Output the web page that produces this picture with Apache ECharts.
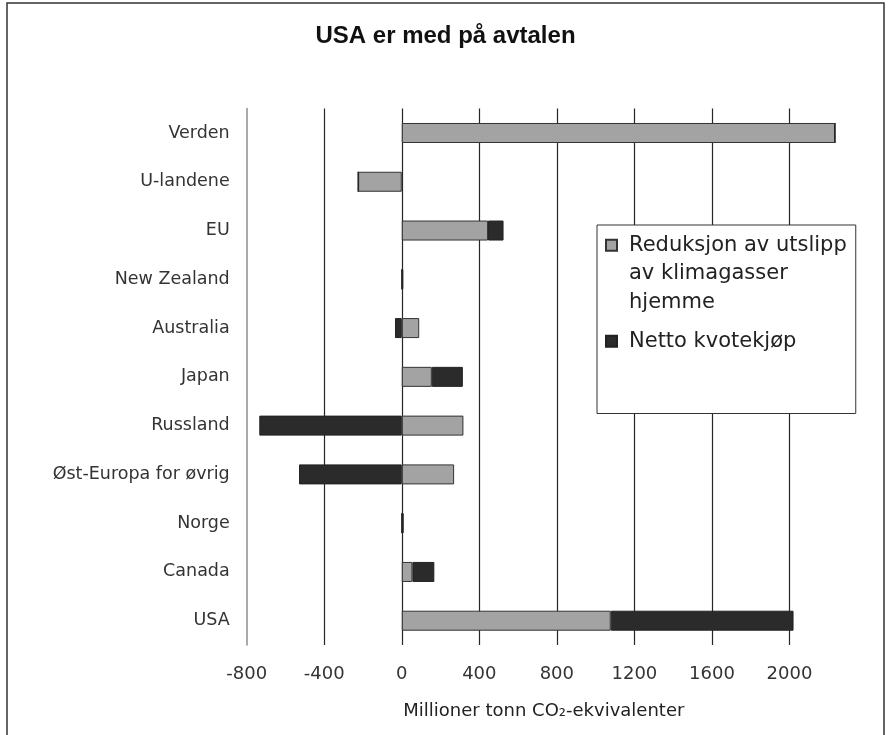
<!DOCTYPE html>
<html>
<head>
<meta charset="utf-8">
<script src="https://cdn.jsdelivr.net/npm/echarts@6/dist/echarts.min.js"></script>
<style>
  html, body { margin: 0; padding: 0; background: #fff; }
  #chart { width: 891px; height: 735px; }
</style>
</head>
<body>
<div id="chart"></div>
<script>
// Data (top to bottom)
const categories = ['Verden', 'U-landene', 'EU', 'New Zealand', 'Australia', 'Japan', 'Russland', 'Øst-Europa for øvrig', 'Norge', 'Canada', 'USA'];
const reduksjon = [2235, -225, 445, 0, 90, 155, 318, 270, 0, 55, 1078];
const kvotekjop = [0, 0, 80, 8, -35, 160, -735, -530, 10, 113, 943];
const xTicks = [-800, -400, 0, 400, 800, 1200, 1600, 2000];
const seriesNames = ['Reduksjon av utslipp av klimagasser hjemme', 'Netto kvotekjøp'];
const legendLabels = ['Reduksjon av utslipp\nav klimagasser\nhjemme', 'Netto kvotekjøp'];

const chart = echarts.init(document.getElementById('chart'), null, { renderer: 'canvas' });

const option = {
  animation: false,
  backgroundColor: '#ffffff',
  title: {
    text: 'USA er med på avtalen',
    left: 'center',
    top: 19,
    textStyle: { fontFamily: 'Liberation Sans', fontWeight: 'bold', fontSize: 24, color: '#111' }
  },
  graphic: [{
    type: 'rect', silent: true, z: -10,
    shape: { x: 7, y: 3, width: 877, height: 760 },
    style: { fill: 'none', stroke: '#333', lineWidth: 1.5 }
  }],
  legend: {
    orient: 'vertical',
    left: 597,
    top: 225,
    padding: [6, 9, 58, 8],
    backgroundColor: '#fff',
    borderColor: '#333',
    borderWidth: 1,
    itemWidth: 11,
    itemHeight: 68,
    itemGap: 10.5,
    symbolKeepAspect: true,
    formatter: function (name) { return legendLabels[seriesNames.indexOf(name)]; },
    textStyle: { fontFamily: 'DejaVu Sans', fontSize: 21, lineHeight: 28.5, color: '#222', padding: [0, 0, 0, 7] },
    data: [
      { name: seriesNames[0], icon: 'path://M0,0h11v11h-11zM0,68' },
      { name: seriesNames[1], icon: 'path://M0,0h11v11h-11z' }
    ]
  },
  grid: { left: 246.7, right: 24, top: 108.6, bottom: 89.9, containLabel: false },
  xAxis: {
    type: 'value',
    min: xTicks[0],
    max: 2400,
    interval: 400,
    name: 'Millioner tonn CO₂-ekvivalenter',
    nameLocation: 'middle',
    nameGap: 57,
    nameTextStyle: { fontFamily: 'DejaVu Sans', fontSize: 18, color: '#222', padding: [0, 26, 0, 0] },
    axisLine: { show: false },
    axisTick: { show: false },
    axisLabel: {
      showMaxLabel: false,
      margin: 20,
      fontFamily: 'DejaVu Sans', fontSize: 18, color: '#333',
      formatter: function (v) { return xTicks.indexOf(v) >= 0 ? String(v) : ''; }
    },
    splitLine: { show: true, showMinLine: false, showMaxLine: false, lineStyle: { color: '#262626', width: 1.2 } }
  },
  yAxis: {
    type: 'category',
    data: categories,
    inverse: true,
    axisLine: { show: true, onZero: false, lineStyle: { color: '#8e8e8e', width: 1.5 } },
    axisTick: { show: false },
    axisLabel: {
      margin: 17,
      fontFamily: 'DejaVu Sans', fontSize: 17.5, color: '#333',
      padding: [0, 0, 11, 0]
    },
    splitLine: { show: false }
  },
  series: [
    {
      name: seriesNames[0],
      type: 'bar',
      stack: 'total',
      barWidth: 20,
      data: reduksjon,
      itemStyle: { color: '#a3a3a3', borderColor: '#333', borderWidth: 1 }
    },
    {
      name: seriesNames[1],
      type: 'bar',
      stack: 'total',
      barWidth: 20,
      data: kvotekjop,
      itemStyle: { color: '#2b2b2b', borderColor: '#222', borderWidth: 1 }
    }
  ]
};

chart.setOption(option);
</script>
</body>
</html>
